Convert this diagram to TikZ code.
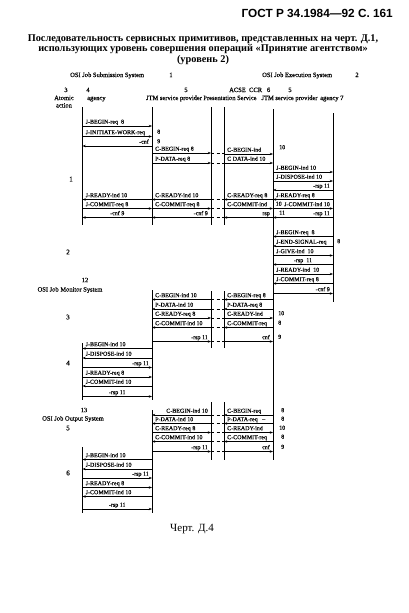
\documentclass[tikz,border=0pt]{standalone}
\usepackage{fontspec}
\setmainfont{Liberation Serif}
\newfontfamily\hdrfont{Liberation Sans}
\newfontfamily\lblfont[FakeBold=0.35]{Liberation Serif}
\usetikzlibrary{arrows.meta}
\newcounter{lc}
\def\xA{82.5}\def\xB{152}\def\xC{211}\def\xD{224}\def\xE{273}\def\xF{333}
\tikzset{
  life/.style={line width=0.7pt},
  msg/.style={line width=0.6pt},
  tipR/.style={-{Stealth[length=3.2pt,width=2.4pt]}},
  tipL/.style={{Stealth[length=3.2pt,width=2.4pt]}-},
  lbl/.style={font=\lblfont\fontsize{6}{7}\selectfont, inner sep=0pt},
  hd/.style={font=\lblfont\fontsize{6.5}{8}\selectfont, inner sep=0pt},
  sec/.style={font=\lblfont\fontsize{7}{8}\selectfont, inner sep=0pt},
  dsh/.style={line width=0.6pt, dash pattern=on 3pt off 2.5pt},
}
% rows of messages between two lifelines
\newcommand\Rows[3]{%
  \foreach \ya/\di/\tx/\al in {#3} {%
    \if R\di \draw[msg,tipR] (#1,\ya) -- (#2,\ya);\else \draw[msg,tipL] (#1,\ya) -- (#2,\ya);\fi
    \stepcounter{lc}%
    \if l\al \node[lbl,anchor=base west] (m\arabic{lc}) at ({#1+3},{\ya-2.3}) {\tx};\fi
    \if r\al \node[lbl,anchor=base east] (m\arabic{lc}) at ({#2-3},{\ya-2.3}) {\tx};\fi
    \if c\al \node[lbl,anchor=base] (m\arabic{lc}) at ({(#1+#2)/2},{\ya-2.3}) {\tx};\fi
  }}
% numbers outside a lifeline
\newcommand\Nums[2]{%
  \foreach \ya/\tx in {#2} {%
    \stepcounter{lc}%
    \node[lbl,anchor=base west] (n\arabic{lc}) at (#1,{\ya-2.8}) {\tx};
  }}
\newcommand\Dashes[1]{%
  \foreach \ya in {#1} {\draw[dsh] (\xC,\ya) -- (\xD,\ya);}}
\begin{document}
\begin{tikzpicture}[x=1pt,y=-1pt]
\fill[white] (0,0) rectangle (408,613);
\useasboundingbox (0,0) rectangle (408,613);

% ---------- page header and title
\node[anchor=base east, font=\hdrfont\bfseries\fontsize{11.8}{13}\selectfont, inner sep=0pt] (hdr) at (393,17) {ГОСТ Р 34.1984—92 С. 161};
\node[anchor=base, font=\bfseries\fontsize{10.3}{12}\selectfont, inner sep=0pt] (ti1) at (203,41) {Последовательность сервисных примитивов, представленных на черт. Д.1,};
\node[anchor=base, font=\bfseries\fontsize{10.3}{12}\selectfont, inner sep=0pt] (ti2) at (203,51.5) {использующих уровень совершения операций «Принятие агентством»};
\node[anchor=base, font=\bfseries\fontsize{10.3}{12}\selectfont, inner sep=0pt] (ti3) at (203,62) {(уровень 2)};

% ---------- column headings
\node[hd,anchor=base west] (sys1) at (70,77) {OSI Job Submission System};
\node[hd,anchor=base] (sys1n) at (171,77) {1};
\node[hd,anchor=base west] (sys2) at (262,77) {OSI Job Execution System};
\node[hd,anchor=base] (sys2n) at (357,77) {2};
\node[hd,anchor=base] (h3) at (66,92) {3};
\node[hd,anchor=base] (h4) at (88,92) {4};
\node[hd,anchor=base] (h5a) at (186,92) {5};
\node[hd,anchor=base west] (h6) at (229,92) {ACSE~~CCR~~~6};
\node[hd,anchor=base] (h5b) at (290,92) {5};
\node[hd,anchor=base] (hat) at (64,100) {Atomic};
\node[hd,anchor=base west] (hag) at (87,100) {agency};
\node[hd,anchor=base] (hjtm1) at (174,100) {JTM service provider};
\node[hd,anchor=base] (hps) at (230,100) {Presentation Service};
\node[hd,anchor=base] (hjtm2) at (289.5,100) {JTM service provider};
\node[hd,anchor=base west] (hag7) at (320,100) {agency 7};
\node[hd,anchor=base] (hac) at (64,107.5) {action};

% ---------- lifelines
\draw[life] (\xA,107) -- (\xA,225);
\draw[life] (\xA,343) -- (\xA,400);
\draw[life] (\xA,447) -- (\xA,513);
\draw[life] (\xB,107) -- (\xB,225);
\draw[life] (\xB,290) -- (\xB,400);
\draw[life] (\xB,410) -- (\xB,513);
\draw[life] (\xC,107) -- (\xC,225);
\draw[life] (\xC,291) -- (\xC,348);
\draw[life] (\xC,402) -- (\xC,460);
\draw[life] (\xD,107) -- (\xD,225);
\draw[life] (\xD,291) -- (\xD,348);
\draw[life] (\xD,402) -- (\xD,460);
\draw[life] (\xE,109) -- (\xE,460);
\draw[life] (\xF,113) -- (\xF,302);

% ---------- section 1
\Rows{\xA}{\xB}{126/R/{J-BEGIN-req~~8}/l, 136.5/R/{J-INITIATE-WORK-req}/l, 146/L/{-cnf}/r,
  199.5/L/{J-READY-ind 10}/l, 208.5/R/{J-COMMIT-req 8}/l, 217.5/L/{-cnf 9}/c}
\Nums{157}{136.5/8, 146/9}
\Rows{\xB}{\xC}{153/R/{C-BEGIN-req 8}/l, 163/R/{P-DATA-req 8}/l,
  199.5/L/{C-READY-ind 10}/l, 208.5/R/{C-COMMIT-req 8}/l, 217.5/L/{-cnf 9}/r}
\Dashes{153,163,199.5,208.5,217.5}
\Rows{\xD}{\xE}{154/R/{C-BEGIN-ind}/l, 163/R/{C DATA-ind 10}/l,
  199.5/L/{C-READY-req 8}/l, 208.5/R/{C-COMMIT-ind}/l, 217.5/L/{rsp}/r}
\Nums{279}{152/10, 217.5/11}
\Nums{275.5}{208.5/10}
\Rows{\xE}{\xF}{172/R/{J-BEGIN-ind 10}/l, 181/R/{J-DISPOSE-ind 10}/l, 190/L/{-rsp 11}/r,
  199.5/L/{J-READY-req 8}/l, 208.5/R/{J-COMMIT-ind 10}/r, 217.5/L/{-rsp 11}/r}
\node[sec] (s1) at (71,179) {1};

% ---------- section 2
\Rows{\xE}{\xF}{236.5/L/{J-BEGIN-req~~8}/l, 246/L/{J-END-SIGNAL-req}/l, 255.5/R/{J-GIVE-ind~~10}/l,
  264.5/L/{-rsp~~11}/c, 274/R/{J-READY-ind~~10}/l, 283.5/L/{J-COMMIT-req 8}/l, 293.5/R/{-cnf 9}/r}
\Nums{337}{246/8}
\node[sec] (s2) at (68,252) {2};
\node[hd] (m12) at (85,280) {12};
\node[hd] (mon) at (70,290) {OSI Job Monitor System};

% ---------- section 3
\Rows{\xB}{\xC}{299.5/L/{C-BEGIN-ind 10}/l, 309/L/{P-DATA-ind 10}/l, 318/R/{C-READY-req 8}/l,
  327.5/L/{C-COMMIT-ind 10}/l, 341.5/R/{-rsp 11}/r}
\Dashes{299.5,309,318,327.5,341.5}
\Rows{\xD}{\xE}{299.5/L/{C-BEGIN-req 8}/l, 309/L/{P-DATA-req 8}/l, 318/R/{C-READY-ind}/l,
  327.5/L/{C-COMMIT-req}/l, 341.5/R/{cnf}/r}
\Nums{278}{318/10, 327.5/8, 341.5/9}
\node[sec] (s3) at (68,317) {3};

% ---------- section 4
\Rows{\xA}{\xB}{348.5/L/{J-BEGIN-ind 10}/l, 358/L/{J-DISPOSE-ind 10}/l, 367.5/R/{-rsp 11}/r,
  377/R/{J-READY-req 8}/l, 386/L/{J-COMMIT-ind 10}/l, 396.5/R/{-rsp 11}/c}
\node[sec] (s4) at (68,363) {4};

% ---------- section 5
\node[hd] (m13) at (84,410) {13};
\node[hd] (out) at (73,419) {OSI Job Output System};
\Rows{\xB}{\xC}{415/L/{C-BEGIN-ind 10}/r, 423.5/L/{P-DATA-ind 10}/l, 432.5/R/{C-READY-req 8}/l,
  441.5/L/{C-COMMIT-ind 10}/l, 451.5/R/{-rsp 11}/r}
\Dashes{415,423.5,432.5,441.5,451.5}
\Rows{\xD}{\xE}{415/L/{C-BEGIN-req}/l, 423.5/L/{P-DATA-req~~~–}/l, 432.5/R/{C-READY-ind}/l,
  441.5/L/{C-COMMIT-req}/l, 451.5/R/{cnf}/r}
\Nums{281}{415/8, 423.5/8, 441.5/8, 451.5/9}
\Nums{279}{432.5/10}
\node[sec] (s5) at (68,428) {5};

% ---------- section 6
\Rows{\xA}{\xB}{459.5/L/{J-BEGIN-ind 10}/l, 469/L/{J-DISPOSE-ind 10}/l, 478/R/{-rsp 11}/r,
  487.5/R/{J-READY-req 8}/l, 496.5/L/{J-COMMIT-ind 10}/l, 509/R/{-rsp 11}/c}
\node[sec] (s6) at (68,473) {6};

% ---------- caption
\node[anchor=base, font=\fontsize{11}{13}\selectfont, inner sep=0pt] (cap) at (192,531) {Черт. Д.4};
\end{tikzpicture}
\end{document}
